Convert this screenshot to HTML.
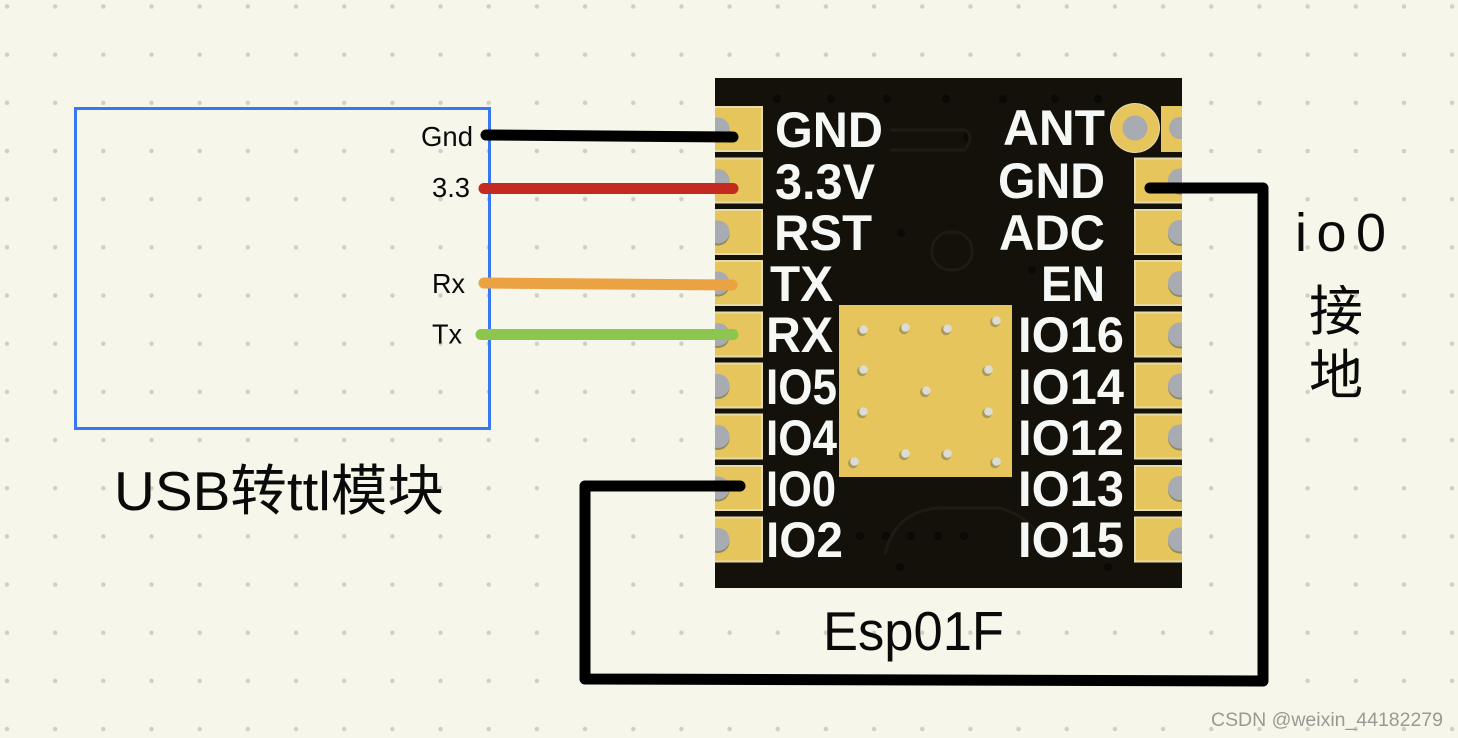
<!DOCTYPE html>
<html><head><meta charset="utf-8"><style>
html,body{margin:0;padding:0;background:#f6f6eb;width:1458px;height:738px;overflow:hidden}
svg{display:block}
.b{font-family:"Liberation Sans",sans-serif;font-weight:bold;font-size:50px;fill:#f6f8f6}
.t{font-family:"Liberation Sans","Noto Sans CJK SC",sans-serif;fill:#0a0a0a}
</style></head><body>
<svg width="1458" height="738" viewBox="0 0 1458 738" xmlns="http://www.w3.org/2000/svg">
<defs>
<pattern id="dots" x="7" y="6.5" width="48.17" height="48.17" patternUnits="userSpaceOnUse">
<circle cx="0" cy="0" r="2.2" fill="#cfcfc6"/><circle cx="48.17" cy="0" r="2.2" fill="#cfcfc6"/><circle cx="0" cy="48.17" r="2.2" fill="#cfcfc6"/><circle cx="48.17" cy="48.17" r="2.2" fill="#cfcfc6"/>
</pattern>
<clipPath id="board"><rect x="715" y="78" width="467" height="510"/></clipPath>
<g id="lp"><rect x="0" y="0" width="48" height="46" fill="#e5c55c"/><path d="M0 1H47V45H0" fill="none" stroke="#e6dcaa" stroke-width="2"/><circle cx="3" cy="25" r="11.5" fill="#8f8a62"/><circle cx="3" cy="23" r="11.5" fill="#a9abb2"/></g>
<g id="rp"><rect x="0" y="0" width="48" height="46" fill="#e5c55c"/><path d="M48 1H1V45H48" fill="none" stroke="#e6dcaa" stroke-width="2"/><circle cx="46" cy="25" r="12" fill="#8f8a62"/><circle cx="46" cy="23" r="12" fill="#a9abb2"/></g>
<g id="v"><circle cx="-1" cy="1.2" r="5" fill="#a89a5a"/><circle cx="0.5" cy="-0.5" r="4.3" fill="#dcdcd4"/></g>
</defs>
<rect width="1458" height="738" fill="#f6f6eb"/>
<rect x="-10" y="-10" width="1478" height="758" fill="url(#dots)"/>

<!-- module -->
<rect x="715" y="78" width="467" height="510" fill="#14100a"/>
<g fill="#0b0906">
<circle cx="777" cy="99" r="4"/><circle cx="831" cy="99" r="4"/><circle cx="887" cy="99" r="4"/><circle cx="946" cy="99" r="4"/><circle cx="1003" cy="99" r="4"/><circle cx="1055" cy="99" r="4"/><circle cx="1098" cy="99" r="4"/>
<circle cx="967" cy="137" r="4"/><circle cx="901" cy="233" r="4"/><circle cx="1032" cy="270" r="4"/>
<circle cx="860" cy="536" r="4"/><circle cx="886" cy="536" r="4"/><circle cx="911" cy="536" r="4"/><circle cx="938" cy="536" r="4"/><circle cx="964" cy="536" r="4"/><circle cx="900" cy="567" r="4"/><circle cx="1108" cy="567" r="4"/>
</g>
<g fill="none" stroke="#1f1a12" stroke-width="3">
<path d="M890 130H965Q975 136 965 150H890"/>
<rect x="932" y="232" width="40" height="38" rx="18"/>
<path d="M885 555Q895 510 940 508H1000Q1040 520 1045 555"/>
</g>
<g clip-path="url(#board)">
<use href="#lp" x="715" y="106"/><use href="#lp" x="715" y="157.5"/><use href="#lp" x="715" y="209"/><use href="#lp" x="715" y="260"/><use href="#lp" x="715" y="311.5"/><use href="#lp" x="715" y="362.5"/><use href="#lp" x="715" y="413.5"/><use href="#lp" x="715" y="465"/><use href="#lp" x="715" y="516.5"/>
<use href="#rp" x="1134" y="157.5"/><use href="#rp" x="1134" y="209"/><use href="#rp" x="1134" y="260"/><use href="#rp" x="1134" y="311.5"/><use href="#rp" x="1134" y="362.5"/><use href="#rp" x="1134" y="413.5"/><use href="#rp" x="1134" y="465"/><use href="#rp" x="1134" y="516.5"/>
<rect x="1161" y="106" width="21" height="46" fill="#e5c55c"/><circle cx="1180" cy="128" r="11" fill="#a9abb2"/>
</g>
<circle cx="1135" cy="128" r="25" fill="#e6dcaa"/>
<circle cx="1135" cy="128" r="24" fill="#e5c55c"/>
<circle cx="1135" cy="128" r="12.5" fill="#a9abb2"/>
<rect x="839" y="305" width="173" height="172" fill="#e5c55c"/>
<use href="#v" x="863" y="330"/><use href="#v" x="905" y="328"/><use href="#v" x="947" y="329"/><use href="#v" x="996" y="321"/><use href="#v" x="863" y="370"/><use href="#v" x="988" y="370"/><use href="#v" x="926" y="391"/><use href="#v" x="863" y="412"/><use href="#v" x="988" y="412"/><use href="#v" x="905" y="454"/><use href="#v" x="947" y="454"/><use href="#v" x="854" y="462"/><use href="#v" x="996" y="462"/>

<text class="b" x="775" y="147" textLength="108" lengthAdjust="spacingAndGlyphs">GND</text>
<text class="b" x="775" y="199" textLength="100" lengthAdjust="spacingAndGlyphs">3.3V</text>
<text class="b" x="774" y="250" textLength="98" lengthAdjust="spacingAndGlyphs">RST</text>
<text class="b" x="770" y="301" textLength="63" lengthAdjust="spacingAndGlyphs">TX</text>
<text class="b" x="766" y="352" textLength="67" lengthAdjust="spacingAndGlyphs">RX</text>
<text class="b" x="766" y="404" textLength="71" lengthAdjust="spacingAndGlyphs">IO5</text>
<text class="b" x="766" y="455" textLength="71" lengthAdjust="spacingAndGlyphs">IO4</text>
<text class="b" x="766" y="506" textLength="70" lengthAdjust="spacingAndGlyphs">IO0</text>
<text class="b" x="766" y="557" textLength="77" lengthAdjust="spacingAndGlyphs">IO2</text>
<text class="b" x="1003" y="145" textLength="102" lengthAdjust="spacingAndGlyphs">ANT</text>
<text class="b" x="998" y="198" textLength="107" lengthAdjust="spacingAndGlyphs">GND</text>
<text class="b" x="999" y="250" textLength="106" lengthAdjust="spacingAndGlyphs">ADC</text>
<text class="b" x="1041" y="301" textLength="64" lengthAdjust="spacingAndGlyphs">EN</text>
<text class="b" x="1018" y="352" textLength="106" lengthAdjust="spacingAndGlyphs">IO16</text>
<text class="b" x="1018" y="404" textLength="106" lengthAdjust="spacingAndGlyphs">IO14</text>
<text class="b" x="1018" y="455" textLength="106" lengthAdjust="spacingAndGlyphs">IO12</text>
<text class="b" x="1018" y="506" textLength="106" lengthAdjust="spacingAndGlyphs">IO13</text>
<text class="b" x="1018" y="557" textLength="106" lengthAdjust="spacingAndGlyphs">IO15</text>

<!-- blue box -->
<rect x="75.5" y="108.5" width="414" height="320" fill="none" stroke="#3478f6" stroke-width="3"/>

<!-- wires -->
<g fill="none" stroke-width="11" stroke-linecap="round" stroke-linejoin="round">
<path d="M486 135L733 137" stroke="#000"/>
<path d="M484 188.5H733" stroke="#c42a1f"/>
<path d="M484 283L732 285" stroke="#eba243"/>
<path d="M481 334.5H733" stroke="#8dc64f"/>
<path d="M1150 188H1263V681L585 679V486H740" stroke="#000"/>
</g>

<!-- labels -->
<text class="t" x="421" y="146" font-size="27.5" textLength="52" lengthAdjust="spacingAndGlyphs">Gnd</text>
<text class="t" x="432" y="197" font-size="27.5" textLength="38" lengthAdjust="spacingAndGlyphs">3.3</text>
<text class="t" x="432" y="293" font-size="27.5" textLength="33" lengthAdjust="spacingAndGlyphs">Rx</text>
<text class="t" x="432" y="343.5" font-size="27.5" textLength="30" lengthAdjust="spacingAndGlyphs">Tx</text>
<text class="t" x="114" y="510" font-size="55" textLength="330" lengthAdjust="spacingAndGlyphs">USB转ttl模块</text>
<text class="t" x="823" y="650" font-size="55" textLength="181" lengthAdjust="spacingAndGlyphs">Esp01F</text>
<text class="t" x="1295" y="251" font-size="54" textLength="91">io0</text>
<text class="t" x="1309" y="330" font-size="54">接</text>
<text class="t" x="1309" y="394" font-size="54">地</text>
<text x="1211" y="726" font-family="'Liberation Sans',sans-serif" font-size="19.5" fill="#9a9a94" textLength="232">CSDN @weixin_44182279</text>
</svg>
</body></html>
